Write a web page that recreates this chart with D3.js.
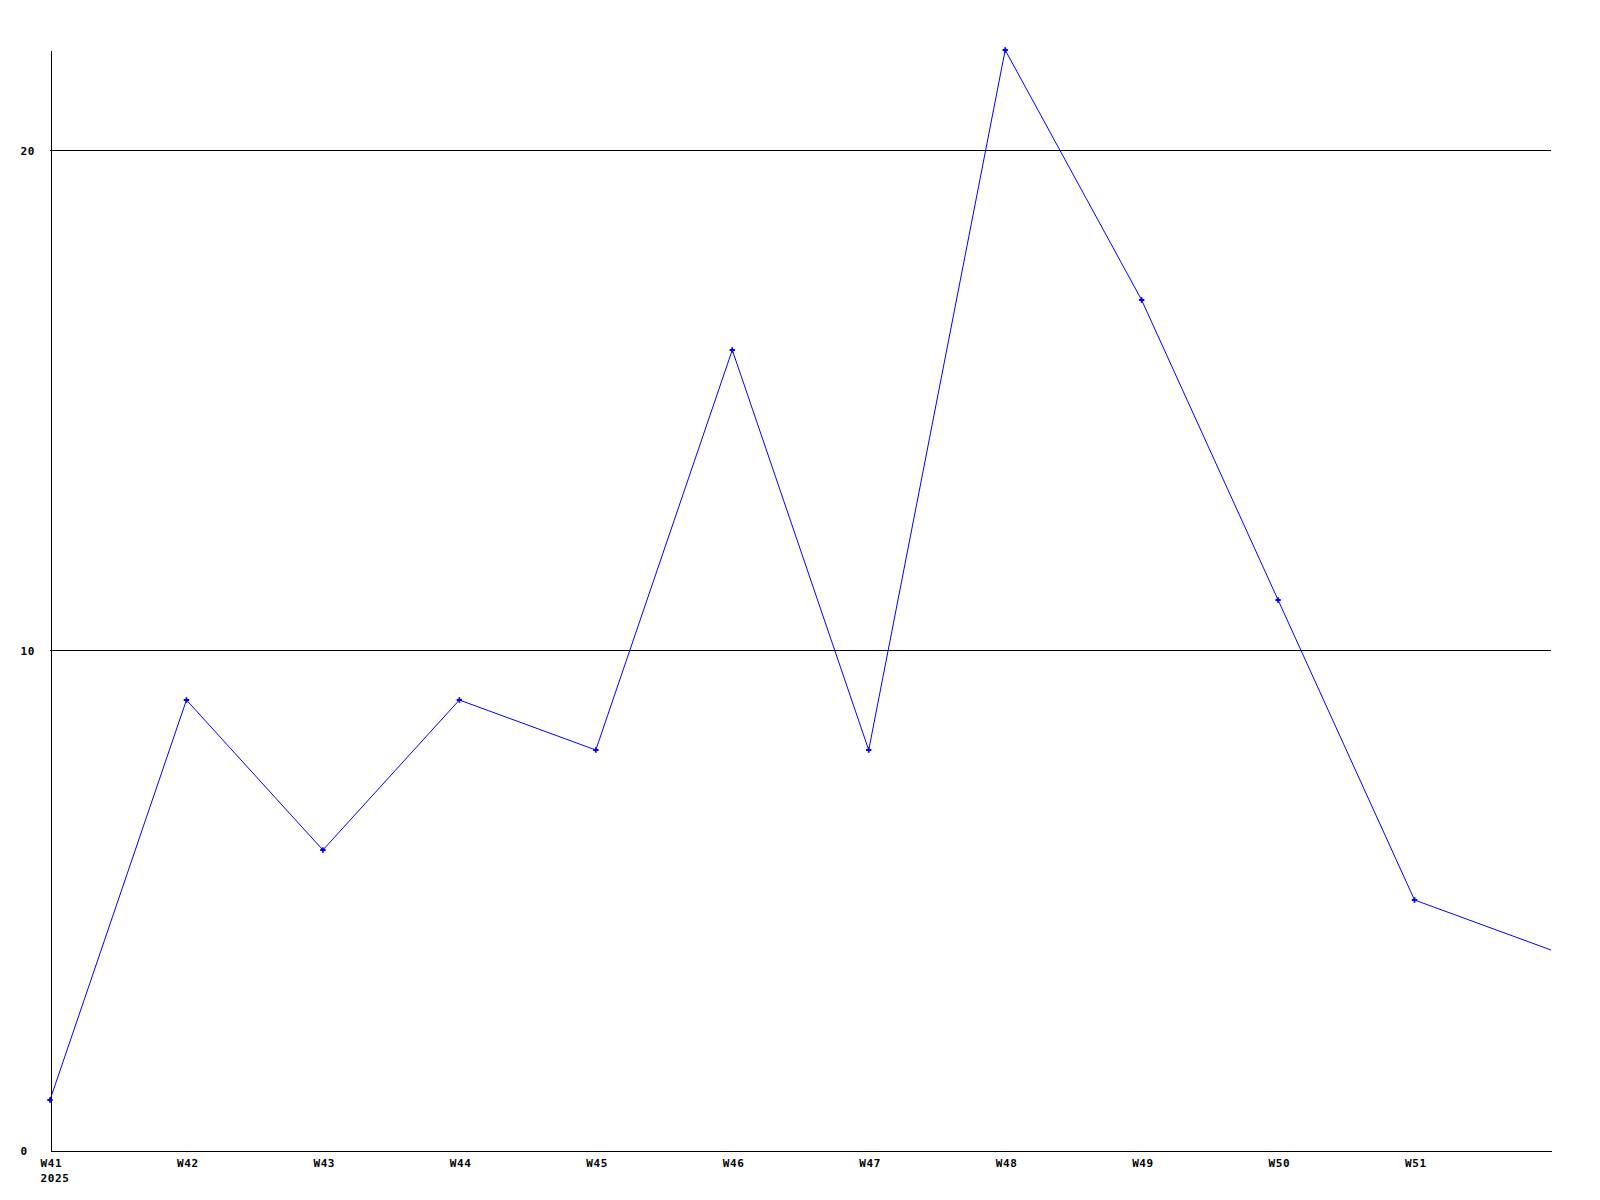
<!DOCTYPE html>
<html>
<head>
<meta charset="utf-8">
<script src="https://cdn.jsdelivr.net/npm/d3@7/dist/d3.min.js"></script>
<style>
  body { margin: 0; background: #fff; }
  svg text { font-family: "DejaVu Sans Mono", monospace; font-weight: bold; font-size: 11px; letter-spacing: 0.6px; fill: #000; }
</style>
</head>
<body>
<svg id="chart" width="1600" height="1200"></svg>
<script>
var weeks = ["W41", "W42", "W43", "W44", "W45", "W46", "W47", "W48", "W49", "W50", "W51", ""];
var counts = [1, 9, 6, 9, 8, 16, 8, 22, 17, 11, 5, 4];
var yTicks = [0, 10, 20];
var yearLabel = "2025";

var width = 1600, height = 1200;
var margin = {top: 50, right: 49, bottom: 50, left: 50};

var svg = d3.select('#chart');

var x = d3.scaleLinear()
    .domain([0, weeks.length - 1])
    .range([margin.left, width - margin.right]);

var y = d3.scaleLinear()
    .domain([0, 22])
    .range([height - margin.bottom, margin.top]);

// grid lines
svg.append('g')
   .selectAll('line')
   .data(yTicks.filter(function(d) { return d > 0; }))
   .enter().append('line')
   .attr('x1', x(0))
   .attr('x2', x(weeks.length - 1))
   .attr('y1', function(d) { return y(d) + 0.5; })
   .attr('y2', function(d) { return y(d) + 0.5; })
   .attr('stroke', '#000')
   .attr('shape-rendering', 'crispEdges');

// y axis, labels left aligned near the page edge
var yAxis = svg.append('g')
   .attr('transform', 'translate(' + (margin.left + 0.5) + ',0.5)')
   .call(d3.axisLeft(y).tickValues(yTicks).tickSize(0).tickFormat(d3.format('d')));
yAxis.attr('font-family', null).attr('font-size', null);
yAxis.select('.domain').attr('stroke', '#000').attr('shape-rendering', 'crispEdges');
yAxis.selectAll('.tick text')
   .attr('text-anchor', 'start')
   .attr('x', 20 - margin.left)
   .attr('dy', null)
   .attr('y', 4);

// x axis
var xAxis = svg.append('g')
   .attr('transform', 'translate(0.5,' + (y(0) + 0.5) + ')')
   .call(d3.axisBottom(x).tickValues(d3.range(weeks.length)).tickSize(0)
         .tickFormat(function(i) { return weeks[i]; }));
xAxis.attr('font-family', null).attr('font-size', null);
xAxis.select('.domain').attr('stroke', '#000').attr('shape-rendering', 'crispEdges');
xAxis.selectAll('.tick text')
   .attr('text-anchor', 'start')
   .attr('x', -10.5)
   .attr('dy', null)
   .attr('y', 16);

xAxis.select('.tick text')
   .append('tspan')
   .attr('x', -10.5)
   .attr('dy', 15)
   .text(yearLabel);

// series line
var line = d3.line()
   .x(function(d, i) { return x(i); })
   .y(function(d) { return y(d); });

svg.append('path')
   .datum(counts)
   .attr('fill', 'none')
   .attr('stroke', '#0000ff')
   .attr('stroke-width', 1)
   .attr('d', line);

// point markers
svg.append('g')
   .selectAll('path')
   .data(counts.slice(0, counts.length - 1))
   .enter().append('path')
   .attr('transform', function(d, i) { return 'translate(' + x(i) + ',' + y(d) + ')'; })
   .attr('d', d3.symbol().type(d3.symbolCross).size(16))
   .attr('fill', '#0000ff');
</script>
</body>
</html>
